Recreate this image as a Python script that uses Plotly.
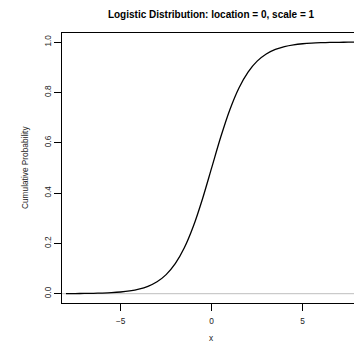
import plotly.graph_objects as go

x_vals = [-8, -7.5, -7, -6.5, -6, -5.5, -5, -4.5, -4, -3.5, -3, -2.5, -2, -1.5, -1, -0.5,
          0, 0.5, 1, 1.5, 2, 2.5, 3, 3.5, 4, 4.5, 5, 5.5, 6, 6.5, 7, 7.5, 8]
cdf_vals = [0.000335, 0.000553, 0.000911, 0.001501, 0.002473, 0.004070, 0.006693, 0.010987,
            0.017986, 0.029312, 0.047426, 0.075858, 0.119203, 0.182426, 0.268941, 0.377541,
            0.5, 0.622459, 0.731059, 0.817574, 0.880797, 0.924142, 0.952574, 0.970688,
            0.982014, 0.989013, 0.993307, 0.995930, 0.997527, 0.998499, 0.999089, 0.999447, 0.999665]
x_ticks = [-5, 0, 5]
x_tick_labels = ["\u22125", "0", "5"]
y_ticks = [0.0, 0.2, 0.4, 0.6, 0.8, 1.0]
y_tick_labels = ["0.0", "0.2", "0.4", "0.6", "0.8", "1.0"]
title_text = "Logistic Distribution: location = 0, scale = 1"
x_title = "x"
y_title = "Cumulative Probability"

FONT = "Liberation Sans, Arial, Helvetica, sans-serif"
W, H = 354, 343
L, R, T, B = 62, 0, 33, 40
XR = [-8.22, 7.82]
YR = [-0.037, 1.036]
LAB = 8.3

fig = go.Figure()
fig.add_trace(go.Scatter(x=[XR[0], XR[1]], y=[0, 0], mode="lines",
                         line=dict(color="#bebebe", width=1), hoverinfo="skip",
                         showlegend=False))
fig.add_trace(go.Scatter(x=x_vals, y=cdf_vals, mode="lines",
                         line=dict(color="black", width=1.3, shape="spline", smoothing=0.8),
                         showlegend=False))

pw = W - L - R
ph = H - T - B
fig.update_layout(
    width=W, height=H,
    margin=dict(l=L, r=R, t=T, b=B),
    paper_bgcolor="white", plot_bgcolor="white",
    font=dict(family=FONT, size=LAB, color="#222"),
    title=dict(text="<b>" + title_text + "</b>", x=(211 - L) / pw, xref="paper",
               xanchor="center", y=1 - 14 / H, yanchor="middle",
               font=dict(family=FONT, size=10, color="black")),
    annotations=[
        dict(text=x_title, xref="paper", yref="paper", x=(211 - L) / pw,
             y=-(338 - (H - B)) / ph, xanchor="center", yanchor="middle",
             showarrow=False, font=dict(size=LAB, color="#222")),
        dict(text=y_title, xref="paper", yref="paper", x=-(L - 25) / pw, y=0.5,
             xanchor="center", yanchor="middle", textangle=-90,
             showarrow=False, font=dict(size=LAB, color="#222")),
    ],
)
fig.update_xaxes(range=XR, tickvals=x_ticks, ticktext=x_tick_labels,
                 showgrid=False, zeroline=False, showline=True, linecolor="black",
                 linewidth=1, mirror=True, ticks="outside", ticklen=7, tickcolor="black",
                 ticklabelstandoff=3)
fig.update_yaxes(range=YR, tickvals=y_ticks, ticktext=y_tick_labels,
                 tickangle=-90, showgrid=False, zeroline=False, showline=True,
                 linecolor="black", linewidth=1, mirror=True, ticks="outside",
                 ticklen=7, tickcolor="black")

fig.write_html("out.html", config={"displayModeBar": False, "staticPlot": True},
               post_script="document.body.style.margin='0';document.body.style.overflow='hidden';")
